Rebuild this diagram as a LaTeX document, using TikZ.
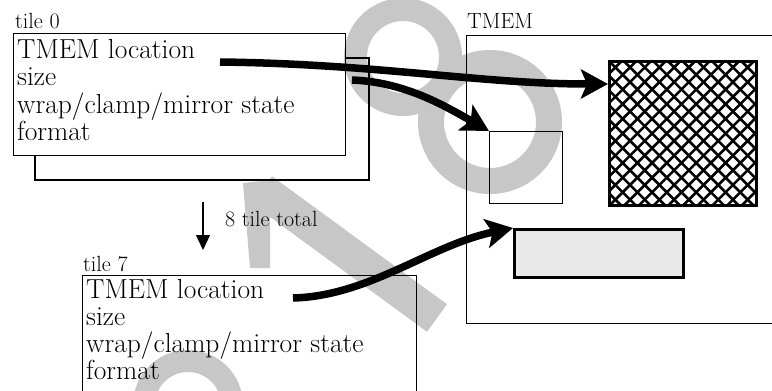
\documentclass[tikz,border=0pt]{standalone}
\usetikzlibrary{arrows.meta}
\begin{document}
\begin{tikzpicture}[x=1pt,y=-1pt,
  thinbox/.style={draw, rectangle, line width=1.3pt, inner sep=0pt, anchor=north west},
  thickbox/.style={draw, rectangle, line width=2.6pt, inner sep=0pt, anchor=north west},
  lbl/.style={anchor=base west, inner sep=0pt, font=\fontsize{22}{24}\selectfont},
  txt/.style={anchor=base west, inner sep=0pt, font=\fontsize{27.5}{30}\selectfont},
  bigarrow/.style={line width=7.5pt, -{Stealth[length=27pt,width=29pt,inset=6pt]}},
  smallarrow/.style={line width=1.3pt, -{Triangle[length=15pt,width=14pt]}},
  wm/.style={fill=black!22},
  hatchline/.style={line width=2.6pt},
]
\useasboundingbox (0,0) rectangle (772,391);
\clip (0,0) rectangle (772,391);

% watermark
\fill[wm, even odd rule] (403,57) circle [radius=59pt] (403,57) circle [radius=36pt];
\fill[wm, even odd rule] (490,122) circle [radius=72pt] (490,122) circle [radius=46pt];
\fill[wm, even odd rule] (188,405) circle [radius=55pt] (188,405) circle [radius=33pt];
\draw[black!22, line width=34pt] (262,190) -- (437,318);
\fill[wm] (243,183) -- (270,180) -- (270,268) -- (250,268) -- cycle;

% tile 0
\node[lbl] (lab0) at (15,28) {tile 0};
\draw[line width=1.3pt] (345,58) -- (369,58) -- (369,180) -- (35,180) -- (35,155);
\node[thinbox, minimum width=332pt, minimum height=122pt] (tile0) at (13,33) {};
\node[txt] (t0a) at (17,58) {TMEM location};
\node[txt] (t0b) at (17,85) {size};
\node[txt] (t0c) at (17,113) {wrap/clamp/mirror state};
\node[txt] (t0d) at (17,140) {format};

% tile 7
\node[lbl] (lab7) at (83,271) {tile 7};
\node[thinbox, minimum width=334pt, minimum height=140pt] (tile7) at (82,275) {};
\node[txt] (t7a) at (86,298) {TMEM location};
\node[txt] (t7b) at (86,325) {size};
\node[txt] (t7c) at (86,352) {wrap/clamp/mirror state};
\node[txt] (t7d) at (86,379) {format};

% 8 tile total
\coordinate (d1) at (203,202);
\coordinate (d2) at (203,250);
\draw[smallarrow] (d1) -- (d2);
\node[lbl] (tot) at (225,226) {8 tile total};

% TMEM
\node[lbl] (labT) at (467,28) {TMEM};
\node[thinbox, minimum width=330pt, minimum height=288pt] (tmem) at (466,35) {};
\node[thinbox, minimum width=73pt, minimum height=72pt] (small) at (489,131) {};
\node[thickbox, fill=black!9, minimum width=169pt, minimum height=48pt] (dotbox) at (513,228) {};
\begin{scope}
  \clip (608,60) rectangle (755,204);
  \foreach \k in {-11,...,21} {
    \draw[hatchline] ({608+\k*14.7},60) -- ++(160,160);
    \draw[hatchline] ({608+\k*14.7},60) -- ++(-160,160);
  }
\end{scope}
\node[thickbox, minimum width=147pt, minimum height=144pt] (hatch) at (608,60) {};

% arrows
\coordinate (a1) at (220,62);
\coordinate (a2) at (352,80);
\coordinate (a3) at (293,298);
\draw[bigarrow] (a1) .. controls (380,64) and (480,84) .. ([yshift=-24pt]hatch.north west);
\draw[bigarrow] (a2) .. controls (405,82) and (445,106) .. (small.north west);
\draw[bigarrow] (a3) .. controls (370,296) and (430,245) .. (dotbox.north west);
\end{tikzpicture}
\end{document}
